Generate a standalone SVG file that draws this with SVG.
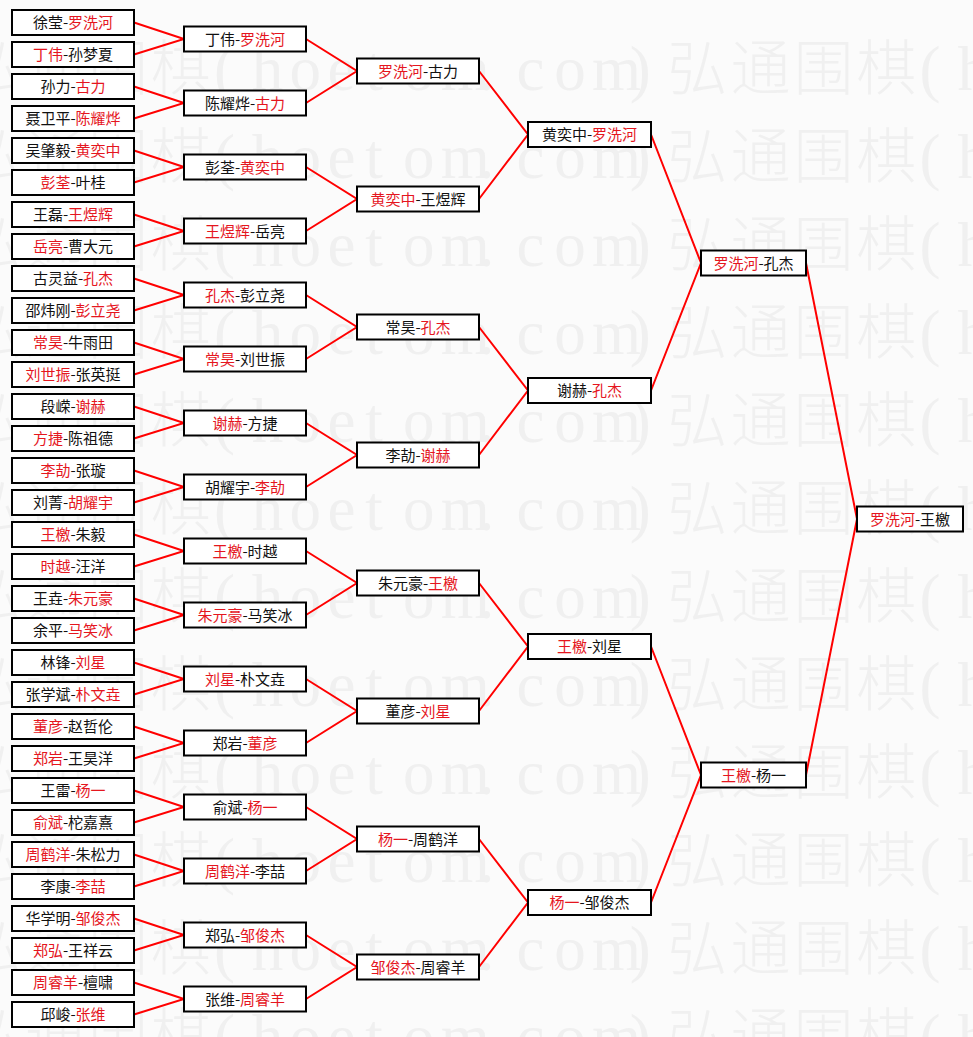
<svg xmlns="http://www.w3.org/2000/svg" xmlns:xlink="http://www.w3.org/1999/xlink" width="973" height="1037" viewBox="0 0 973 1037">
<style>
.bg{fill:#fbfbfb}
.wm{font-family:"Noto Sans CJK SC",sans-serif;font-size:60px;font-weight:300;fill:#f0f0f0;letter-spacing:3px}
.wl{font-family:"Liberation Serif","Noto Sans CJK SC",serif;font-size:63px;letter-spacing:0}
.box{fill:#fff;stroke:#000;stroke-width:2}
.t{font-family:"Noto Sans CJK SC",sans-serif;font-size:15px;fill:#111;text-anchor:middle}
.r{fill:#e5161e}
.c polyline{fill:none;stroke:#f00;stroke-width:2;stroke-linejoin:miter}
</style>
<defs>
<text id="wmrow" class="wm" y="0"><tspan x="-38">弘通围棋</tspan><tspan class="wl" x="214">(</tspan><tspan class="wl" x="251.8">h</tspan><tspan class="wl" x="289.6">o</tspan><tspan class="wl" x="327.4">e</tspan><tspan class="wl" x="365.2">t</tspan><tspan class="wl" x="403">o</tspan><tspan class="wl" x="440.8">m</tspan><tspan class="wl" x="478.6">.</tspan><tspan class="wl" x="516.4">c</tspan><tspan class="wl" x="554.2">o</tspan><tspan class="wl" x="592">m</tspan><tspan class="wl" x="629.8">)</tspan><tspan x="667.6">弘通围棋</tspan><tspan class="wl" x="919.6">(</tspan><tspan class="wl" x="957.4">h</tspan></text>
</defs>
<rect class="bg" x="0" y="0" width="973" height="1037"/>
<g id="watermark">
<use xlink:href="#wmrow" href="#wmrow" y="90"/>
<use xlink:href="#wmrow" href="#wmrow" y="178"/>
<use xlink:href="#wmrow" href="#wmrow" y="266"/>
<use xlink:href="#wmrow" href="#wmrow" y="354"/>
<use xlink:href="#wmrow" href="#wmrow" y="442"/>
<use xlink:href="#wmrow" href="#wmrow" y="530"/>
<use xlink:href="#wmrow" href="#wmrow" y="618"/>
<use xlink:href="#wmrow" href="#wmrow" y="706"/>
<use xlink:href="#wmrow" href="#wmrow" y="794"/>
<use xlink:href="#wmrow" href="#wmrow" y="882"/>
<use xlink:href="#wmrow" href="#wmrow" y="970"/>
<use xlink:href="#wmrow" href="#wmrow" y="1058"/>
</g>
<g id="connectors" class="c">
<polyline points="134,22.5 184,39 134,54.5"/>
<polyline points="134,86.5 184,103 134,118.5"/>
<polyline points="134,150.5 184,167 134,182.5"/>
<polyline points="134,214.5 184,231 134,246.5"/>
<polyline points="134,278.5 184,295 134,310.5"/>
<polyline points="134,342.5 184,359 134,374.5"/>
<polyline points="134,406.5 184,423 134,438.5"/>
<polyline points="134,470.5 184,487 134,502.5"/>
<polyline points="134,534.5 184,551 134,566.5"/>
<polyline points="134,598.5 184,615 134,630.5"/>
<polyline points="134,662.5 184,679 134,694.5"/>
<polyline points="134,726.5 184,743 134,758.5"/>
<polyline points="134,790.5 184,807 134,822.5"/>
<polyline points="134,854.5 184,871 134,886.5"/>
<polyline points="134,918.5 184,935 134,950.5"/>
<polyline points="134,982.5 184,999 134,1014.5"/>
<polyline points="306,39 357,71 306,103"/>
<polyline points="306,167 357,199 306,231"/>
<polyline points="306,295 357,327 306,359"/>
<polyline points="306,423 357,455 306,487"/>
<polyline points="306,551 357,583 306,615"/>
<polyline points="306,679 357,711 306,743"/>
<polyline points="306,807 357,839 306,871"/>
<polyline points="306,935 357,967 306,999"/>
<polyline points="479,71 528,134.5 479,199"/>
<polyline points="479,327 528,390.5 479,455"/>
<polyline points="479,583 528,646.5 479,711"/>
<polyline points="479,839 528,902.5 479,967"/>
<polyline points="651,134.5 701,263 651,390.5"/>
<polyline points="651,646.5 701,775 651,902.5"/>
<polyline points="806,263 857,519 806,775"/>
</g>
<g id="r1-01"><rect class="box" x="12" y="10" width="122" height="25"/><text class="t" x="73" y="28">徐莹-<tspan class="r">罗洗河</tspan></text></g>
<g id="r1-02"><rect class="box" x="12" y="42" width="122" height="25"/><text class="t" x="73" y="60"><tspan class="r">丁伟</tspan>-孙梦夏</text></g>
<g id="r1-03"><rect class="box" x="12" y="74" width="122" height="25"/><text class="t" x="73" y="92">孙力-<tspan class="r">古力</tspan></text></g>
<g id="r1-04"><rect class="box" x="12" y="106" width="122" height="25"/><text class="t" x="73" y="124">聂卫平-<tspan class="r">陈耀烨</tspan></text></g>
<g id="r1-05"><rect class="box" x="12" y="138" width="122" height="25"/><text class="t" x="73" y="156">吴肇毅-<tspan class="r">黄奕中</tspan></text></g>
<g id="r1-06"><rect class="box" x="12" y="170" width="122" height="25"/><text class="t" x="73" y="188"><tspan class="r">彭荃</tspan>-叶桂</text></g>
<g id="r1-07"><rect class="box" x="12" y="202" width="122" height="25"/><text class="t" x="73" y="220">王磊-<tspan class="r">王煜辉</tspan></text></g>
<g id="r1-08"><rect class="box" x="12" y="234" width="122" height="25"/><text class="t" x="73" y="252"><tspan class="r">岳亮</tspan>-曹大元</text></g>
<g id="r1-09"><rect class="box" x="12" y="266" width="122" height="25"/><text class="t" x="73" y="284">古灵益-<tspan class="r">孔杰</tspan></text></g>
<g id="r1-10"><rect class="box" x="12" y="298" width="122" height="25"/><text class="t" x="73" y="316">邵炜刚-<tspan class="r">彭立尧</tspan></text></g>
<g id="r1-11"><rect class="box" x="12" y="330" width="122" height="25"/><text class="t" x="73" y="348"><tspan class="r">常昊</tspan>-牛雨田</text></g>
<g id="r1-12"><rect class="box" x="12" y="362" width="122" height="25"/><text class="t" x="73" y="380"><tspan class="r">刘世振</tspan>-张英挺</text></g>
<g id="r1-13"><rect class="box" x="12" y="394" width="122" height="25"/><text class="t" x="73" y="412">段嵘-<tspan class="r">谢赫</tspan></text></g>
<g id="r1-14"><rect class="box" x="12" y="426" width="122" height="25"/><text class="t" x="73" y="444"><tspan class="r">方捷</tspan>-陈祖德</text></g>
<g id="r1-15"><rect class="box" x="12" y="458" width="122" height="25"/><text class="t" x="73" y="476"><tspan class="r">李劼</tspan>-张璇</text></g>
<g id="r1-16"><rect class="box" x="12" y="490" width="122" height="25"/><text class="t" x="73" y="508">刘菁-<tspan class="r">胡耀宇</tspan></text></g>
<g id="r1-17"><rect class="box" x="12" y="522" width="122" height="25"/><text class="t" x="73" y="540"><tspan class="r">王檄</tspan>-朱毅</text></g>
<g id="r1-18"><rect class="box" x="12" y="554" width="122" height="25"/><text class="t" x="73" y="572"><tspan class="r">时越</tspan>-汪洋</text></g>
<g id="r1-19"><rect class="box" x="12" y="586" width="122" height="25"/><text class="t" x="73" y="604">王垚-<tspan class="r">朱元豪</tspan></text></g>
<g id="r1-20"><rect class="box" x="12" y="618" width="122" height="25"/><text class="t" x="73" y="636">余平-<tspan class="r">马笑冰</tspan></text></g>
<g id="r1-21"><rect class="box" x="12" y="650" width="122" height="25"/><text class="t" x="73" y="668">林锋-<tspan class="r">刘星</tspan></text></g>
<g id="r1-22"><rect class="box" x="12" y="682" width="122" height="25"/><text class="t" x="73" y="700">张学斌-<tspan class="r">朴文垚</tspan></text></g>
<g id="r1-23"><rect class="box" x="12" y="714" width="122" height="25"/><text class="t" x="73" y="732"><tspan class="r">董彦</tspan>-赵哲伦</text></g>
<g id="r1-24"><rect class="box" x="12" y="746" width="122" height="25"/><text class="t" x="73" y="764"><tspan class="r">郑岩</tspan>-王昊洋</text></g>
<g id="r1-25"><rect class="box" x="12" y="778" width="122" height="25"/><text class="t" x="73" y="796">王雷-<tspan class="r">杨一</tspan></text></g>
<g id="r1-26"><rect class="box" x="12" y="810" width="122" height="25"/><text class="t" x="73" y="828"><tspan class="r">俞斌</tspan>-柁嘉熹</text></g>
<g id="r1-27"><rect class="box" x="12" y="842" width="122" height="25"/><text class="t" x="73" y="860"><tspan class="r">周鹤洋</tspan>-朱松力</text></g>
<g id="r1-28"><rect class="box" x="12" y="874" width="122" height="25"/><text class="t" x="73" y="892">李康-<tspan class="r">李喆</tspan></text></g>
<g id="r1-29"><rect class="box" x="12" y="906" width="122" height="25"/><text class="t" x="73" y="924">华学明-<tspan class="r">邹俊杰</tspan></text></g>
<g id="r1-30"><rect class="box" x="12" y="938" width="122" height="25"/><text class="t" x="73" y="956"><tspan class="r">郑弘</tspan>-王祥云</text></g>
<g id="r1-31"><rect class="box" x="12" y="970" width="122" height="25"/><text class="t" x="73" y="988"><tspan class="r">周睿羊</tspan>-檀啸</text></g>
<g id="r1-32"><rect class="box" x="12" y="1002" width="122" height="25"/><text class="t" x="73" y="1020">邱峻-<tspan class="r">张维</tspan></text></g>
<g id="r2-01"><rect class="box" x="184" y="26.5" width="122" height="25"/><text class="t" x="245" y="44.5">丁伟-<tspan class="r">罗洗河</tspan></text></g>
<g id="r2-02"><rect class="box" x="184" y="90.5" width="122" height="25"/><text class="t" x="245" y="108.5">陈耀烨-<tspan class="r">古力</tspan></text></g>
<g id="r2-03"><rect class="box" x="184" y="154.5" width="122" height="25"/><text class="t" x="245" y="172.5">彭荃-<tspan class="r">黄奕中</tspan></text></g>
<g id="r2-04"><rect class="box" x="184" y="218.5" width="122" height="25"/><text class="t" x="245" y="236.5"><tspan class="r">王煜辉</tspan>-岳亮</text></g>
<g id="r2-05"><rect class="box" x="184" y="282.5" width="122" height="25"/><text class="t" x="245" y="300.5"><tspan class="r">孔杰</tspan>-彭立尧</text></g>
<g id="r2-06"><rect class="box" x="184" y="346.5" width="122" height="25"/><text class="t" x="245" y="364.5"><tspan class="r">常昊</tspan>-刘世振</text></g>
<g id="r2-07"><rect class="box" x="184" y="410.5" width="122" height="25"/><text class="t" x="245" y="428.5"><tspan class="r">谢赫</tspan>-方捷</text></g>
<g id="r2-08"><rect class="box" x="184" y="474.5" width="122" height="25"/><text class="t" x="245" y="492.5">胡耀宇-<tspan class="r">李劼</tspan></text></g>
<g id="r2-09"><rect class="box" x="184" y="538.5" width="122" height="25"/><text class="t" x="245" y="556.5"><tspan class="r">王檄</tspan>-时越</text></g>
<g id="r2-10"><rect class="box" x="184" y="602.5" width="122" height="25"/><text class="t" x="245" y="620.5"><tspan class="r">朱元豪</tspan>-马笑冰</text></g>
<g id="r2-11"><rect class="box" x="184" y="666.5" width="122" height="25"/><text class="t" x="245" y="684.5"><tspan class="r">刘星</tspan>-朴文垚</text></g>
<g id="r2-12"><rect class="box" x="184" y="730.5" width="122" height="25"/><text class="t" x="245" y="748.5">郑岩-<tspan class="r">董彦</tspan></text></g>
<g id="r2-13"><rect class="box" x="184" y="794.5" width="122" height="25"/><text class="t" x="245" y="812.5">俞斌-<tspan class="r">杨一</tspan></text></g>
<g id="r2-14"><rect class="box" x="184" y="858.5" width="122" height="25"/><text class="t" x="245" y="876.5"><tspan class="r">周鹤洋</tspan>-李喆</text></g>
<g id="r2-15"><rect class="box" x="184" y="922.5" width="122" height="25"/><text class="t" x="245" y="940.5">郑弘-<tspan class="r">邹俊杰</tspan></text></g>
<g id="r2-16"><rect class="box" x="184" y="986.5" width="122" height="25"/><text class="t" x="245" y="1004.5">张维-<tspan class="r">周睿羊</tspan></text></g>
<g id="r3-1"><rect class="box" x="357" y="58.5" width="122" height="25"/><text class="t" x="418" y="76.5"><tspan class="r">罗洗河</tspan>-古力</text></g>
<g id="r3-2"><rect class="box" x="357" y="186.5" width="122" height="25"/><text class="t" x="418" y="204.5"><tspan class="r">黄奕中</tspan>-王煜辉</text></g>
<g id="r3-3"><rect class="box" x="357" y="314.5" width="122" height="25"/><text class="t" x="418" y="332.5">常昊-<tspan class="r">孔杰</tspan></text></g>
<g id="r3-4"><rect class="box" x="357" y="442.5" width="122" height="25"/><text class="t" x="418" y="460.5">李劼-<tspan class="r">谢赫</tspan></text></g>
<g id="r3-5"><rect class="box" x="357" y="570.5" width="122" height="25"/><text class="t" x="418" y="588.5">朱元豪-<tspan class="r">王檄</tspan></text></g>
<g id="r3-6"><rect class="box" x="357" y="698.5" width="122" height="25"/><text class="t" x="418" y="716.5">董彦-<tspan class="r">刘星</tspan></text></g>
<g id="r3-7"><rect class="box" x="357" y="826.5" width="122" height="25"/><text class="t" x="418" y="844.5"><tspan class="r">杨一</tspan>-周鹤洋</text></g>
<g id="r3-8"><rect class="box" x="357" y="954.5" width="122" height="25"/><text class="t" x="418" y="972.5"><tspan class="r">邹俊杰</tspan>-周睿羊</text></g>
<g id="r4-1"><rect class="box" x="528" y="122" width="123" height="25"/><text class="t" x="589.5" y="140">黄奕中-<tspan class="r">罗洗河</tspan></text></g>
<g id="r4-2"><rect class="box" x="528" y="378" width="123" height="25"/><text class="t" x="589.5" y="396">谢赫-<tspan class="r">孔杰</tspan></text></g>
<g id="r4-3"><rect class="box" x="528" y="634" width="123" height="25"/><text class="t" x="589.5" y="652"><tspan class="r">王檄</tspan>-刘星</text></g>
<g id="r4-4"><rect class="box" x="528" y="890" width="123" height="25"/><text class="t" x="589.5" y="908"><tspan class="r">杨一</tspan>-邹俊杰</text></g>
<g id="r5-1"><rect class="box" x="701" y="250.5" width="105" height="25"/><text class="t" x="753.5" y="268.5"><tspan class="r">罗洗河</tspan>-孔杰</text></g>
<g id="r5-2"><rect class="box" x="701" y="762.5" width="105" height="25"/><text class="t" x="753.5" y="780.5"><tspan class="r">王檄</tspan>-杨一</text></g>
<g id="final"><rect class="box" x="857" y="506.5" width="106" height="25"/><text class="t" x="910" y="524.5"><tspan class="r">罗洗河</tspan>-王檄</text></g>
</svg>
